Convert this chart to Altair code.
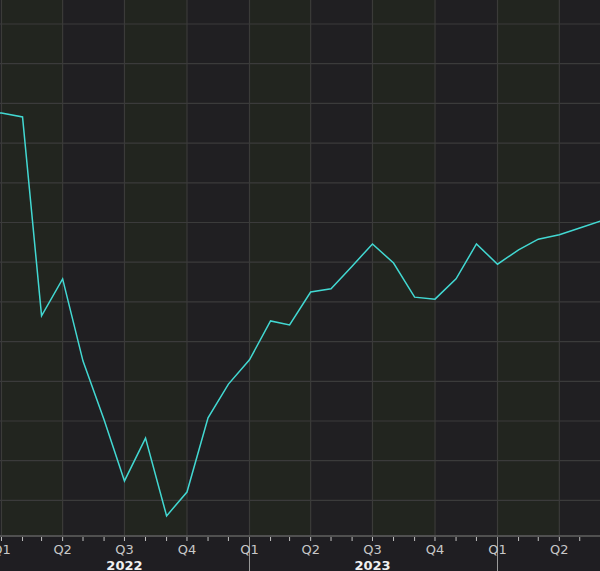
import altair as alt
import pandas as pd

# Monthly series (arbitrary index units)
months = [
    "2021-12-01", "2022-01-01", "2022-02-01", "2022-03-01", "2022-04-01", "2022-05-01",
    "2022-06-01", "2022-07-01", "2022-08-01", "2022-09-01", "2022-10-01", "2022-11-01",
    "2022-12-01", "2023-01-01", "2023-02-01", "2023-03-01", "2023-04-01", "2023-05-01",
    "2023-06-01", "2023-07-01", "2023-08-01", "2023-09-01", "2023-10-01", "2023-11-01",
    "2023-12-01", "2024-01-01", "2024-02-01", "2024-03-01", "2024-04-01", "2024-05-01",
    "2024-06-01",
]
values = [
    10.78, 10.76, 10.66, 5.65, 6.58, 4.51,
    3.03, 1.49, 2.57, 0.61, 1.21, 3.08,
    3.93, 4.54, 5.52, 5.42, 6.25, 6.33,
    6.90, 7.46, 6.98, 6.12, 6.07, 6.58,
    7.46, 6.95, 7.31, 7.58, 7.69, 7.86,
    8.04,
]

# Quarter bands / labels
quarter_starts = [
    "2021-10-01", "2022-01-01", "2022-04-01", "2022-07-01", "2022-10-01",
    "2023-01-01", "2023-04-01", "2023-07-01", "2023-10-01",
    "2024-01-01", "2024-04-01",
]
quarter_ends = [
    "2022-01-01", "2022-04-01", "2022-07-01", "2022-10-01", "2023-01-01",
    "2023-04-01", "2023-07-01", "2023-10-01", "2024-01-01",
    "2024-04-01", "2024-07-01",
]
quarter_labels = ["Q4", "Q1", "Q2", "Q3", "Q4", "Q1", "Q2", "Q3", "Q4", "Q1", "Q2"]
quarter_shade = ["b", "a", "b", "a", "b", "a", "b", "a", "b", "a", "b"]

year_label_dates = ["2022-07-01", "2023-07-01"]
year_labels = ["2022", "2023"]
year_boundaries = ["2023-01-01", "2024-01-01"]

h_grid = [1, 2, 3, 4, 5, 6, 7, 8, 9, 10, 11, 12, 13]

W, H = 600, 537

xscale = alt.Scale(domain=["2021-12-29T20:00:00", "2024-05-30T20:00:00"])
yscale = alt.Scale(domain=[0.078, 13.605])

df = pd.DataFrame({"date": months, "value": values})
qdf = pd.DataFrame({"start": quarter_starts, "end": quarter_ends,
                    "label": quarter_labels, "shade": quarter_shade})
ydf = pd.DataFrame({"date": year_label_dates, "label": year_labels})
bdf = pd.DataFrame({"date": year_boundaries})
gdf = pd.DataFrame({"v": h_grid})
mdf = pd.DataFrame({"date": months[1:]})

bands = alt.Chart(qdf).mark_rect().encode(
    x=alt.X("start:T", scale=xscale, axis=None),
    x2="end:T",
    y=alt.value(0),
    y2=alt.value(H),
    color=alt.Color("shade:N", scale=alt.Scale(domain=["a", "b"], range=["#22251f", "#201f22"]), legend=None),
)

vgrid = alt.Chart(qdf).mark_rule(color="#3b3b39", strokeWidth=1.2).encode(
    x=alt.X("start:T", scale=xscale, axis=None),
    y=alt.value(0),
    y2=alt.value(H),
)

hgrid = alt.Chart(gdf).mark_rule(color="#3b3b3b", strokeWidth=1.2).encode(
    y=alt.Y("v:Q", scale=yscale, axis=None),
    x=alt.value(0),
    x2=alt.value(W),
)

line = alt.Chart(df).mark_line(color="#42d8d2", strokeWidth=1.5, clip=True).encode(
    x=alt.X("date:T", scale=xscale, axis=None),
    y=alt.Y("value:Q", scale=yscale, axis=None),
)

axis_line = alt.Chart(gdf).mark_rule(color="#505050", strokeWidth=2).encode(
    x=alt.value(0), x2=alt.value(W), y=alt.value(H - 1),
)

month_ticks = alt.Chart(mdf).mark_rule(color="#c0c0c0", strokeWidth=1).encode(
    x=alt.X("date:T", scale=xscale, axis=None),
    y=alt.value(H),
    y2=alt.value(H + 4),
)

year_sep = alt.Chart(bdf).mark_rule(color="#9a9a9a", strokeWidth=1).encode(
    x=alt.X("date:T", scale=xscale, axis=None),
    y=alt.value(H),
    y2=alt.value(H + 34),
)

q_text = alt.Chart(qdf).mark_text(
    font="DejaVu Sans", fontSize=13, color="#c8c8c8", baseline="middle", align="center"
).encode(
    x=alt.X("start:T", scale=xscale, axis=None),
    y=alt.value(H + 13),
    text="label:N",
)

y_text = alt.Chart(ydf).mark_text(
    font="DejaVu Sans", fontSize=13, fontWeight="bold", color="#f0f0f0",
    baseline="middle", align="center"
).encode(
    x=alt.X("date:T", scale=xscale, axis=None),
    y=alt.value(H + 29),
    text="label:N",
)

chart = alt.layer(
    bands, vgrid, hgrid, line, axis_line, month_ticks, year_sep, q_text, y_text
).properties(
    width=W, height=H,
    background="#1f1e22",
    padding={"left": 0, "right": 0, "top": 0, "bottom": 34},
    autosize=alt.AutoSizeParams(type="none"),
).configure_view(stroke=None)

chart.save("out.html", embed_options={"renderer": "svg", "actions": False})
